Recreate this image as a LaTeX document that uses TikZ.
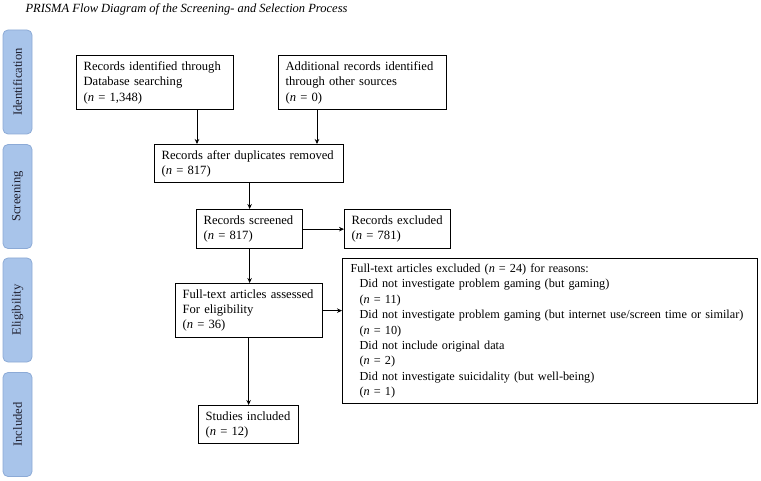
\documentclass[tikz,border=0pt]{standalone}
\usepackage{fontspec}
\setmainfont{Liberation Serif}
\usetikzlibrary{arrows.meta}
\definecolor{barfill}{RGB}{168,196,234}
\definecolor{barline}{RGB}{140,170,214}
\definecolor{bartext}{RGB}{30,30,45}
\newcommand\nn{\textit{n}}
\hyphenpenalty=10000
\begin{document}
\begin{tikzpicture}[x=1pt,y=-1pt,
  box/.style={draw, line width=1.3pt, inner xsep=7pt, inner ysep=0pt, anchor=north west, align=left,
    font=\fontsize{12.6}{15.3}\selectfont},
  bar/.style={draw=barline, fill=barfill, line width=0.8pt, rounded corners=5pt, rotate=90,
    minimum width=104pt, minimum height=29pt, inner sep=0pt, text=bartext,
    font=\fontsize{12.6}{15}\selectfont},
  arr/.style={-{Stealth[length=5pt,width=4.5pt]}, line width=0.7pt}]
\useasboundingbox (0,0) rectangle (761,481);
\node[anchor=west, font=\itshape\fontsize{12.5}{14}\selectfont] (title) at (22,9) {PRISMA Flow Diagram of the Screening- and Selection Process};
% side bars
\node[bar] (s1) at (17.5,82) {Identification};
\node[bar] (s2) at (17.5,196.5) {Screening};
\node[bar] (s3) at (17.5,310) {Eligibility};
\node[bar] (s4) at (17.5,424.5) {Included};
% boxes
\node[box, minimum width=157pt, minimum height=54pt, text width=143pt] (b1) at (76,55)
  {Records identified through\\Database searching\\(\nn{} = 1,348)};
\node[box, minimum width=168pt, minimum height=54pt, text width=154pt] (b2) at (278,55)
  {Additional records identified\\through other sources\\(\nn{} = 0)};
\node[box, minimum width=189pt, minimum height=38pt, text width=175pt] (b3) at (154,144)
  {Records after duplicates removed\\(\nn{} = 817)};
\node[box, minimum width=106pt, minimum height=39pt, text width=92pt] (b4) at (196,209)
  {Records screened\\(\nn{} = 817)};
\node[box, minimum width=106pt, minimum height=39pt, text width=92pt] (b5) at (344,209)
  {Records excluded\\(\nn{} = 781)};
\node[box, minimum width=147pt, minimum height=54pt, text width=133pt] (b6) at (175,283)
  {Full-text articles assessed\\For eligibility\\(\nn{} = 36)};
\node[box, inner xsep=8pt, minimum width=415pt, minimum height=145pt, text width=399pt,
  font=\fontsize{12.25}{15.4}\selectfont] (b7) at (342,258)
  {Full-text articles excluded (\nn{} = 24) for reasons:\\
   \hspace*{9pt}Did not investigate problem gaming (but gaming)\\
   \hspace*{9pt}(\nn{} = 11)\\
   \hspace*{9pt}\mbox{Did not investigate problem gaming (but internet use/screen time or similar)}\\
   \hspace*{9pt}(\nn{} = 10)\\
   \hspace*{9pt}Did not include original data\\
   \hspace*{9pt}(\nn{} = 2)\\
   \hspace*{9pt}Did not investigate suicidality (but well-being)\\
   \hspace*{9pt}(\nn{} = 1)};
\node[box, minimum width=100pt, minimum height=38pt, text width=86pt] (b8) at (198,405)
  {Studies included\\(\nn{} = 12)};
% connectors
\coordinate (x1) at (197,0);
\coordinate (x2) at (317,0);
\draw[arr] (b1.south -| x1) -- (b3.north -| x1);
\draw[arr] (b2.south -| x2) -- (b3.north -| x2);
\draw[arr] (b3.south -| b4.north) -- (b4.north);
\draw[arr] (b4.east) -- (b5.west);
\draw[arr] (b4.south) -- (b4.south |- b6.north);
\draw[arr] (b6.east) -- (b6.east -| b7.west);
\draw[arr] (b6.south -| b8.north) -- (b8.north);
\end{tikzpicture}
\end{document}
